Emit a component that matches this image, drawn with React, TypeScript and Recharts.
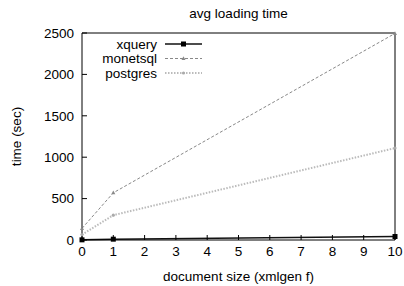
import { Line, LineChart, XAxis, YAxis } from "recharts"

const sizes = [0, 1, 10]
const xquery = [2, 10, 42]
const monetsql = [140, 570, 2495]
const postgres = [65, 300, 1110]

const xTicks = [0, 1, 2, 3, 4, 5, 6, 7, 8, 9, 10]
const yTicks = [0, 500, 1000, 1500, 2000, 2500]

const data = sizes.map((s, i) => ({
  size: s,
  xquery: xquery[i],
  monetsql: monetsql[i],
  postgres: postgres[i],
}))

const FONT = "'Liberation Sans', Arial, Helvetica, sans-serif"
const tickStyle = { fontSize: 13.5, fill: "#000", fontFamily: FONT }

const SquareDot = (props: any) => {
  const { cx, cy, index } = props
  return <rect key={`sq-${index}`} x={cx - 2.5} y={cy - 2.5} width={5} height={5} fill="#000" />
}

const TriDot = (props: any) => {
  const { cx, cy, index } = props
  return (
    <path
      key={`tri-${index}`}
      d={`M${cx},${cy - 2.2}L${cx + 2},${cy + 1.5}L${cx - 2},${cy + 1.5}Z`}
      fill="#888"
    />
  )
}

const CircleDot = (props: any) => {
  const { cx, cy, index } = props
  return <circle key={`ci-${index}`} cx={cx} cy={cy} r={1.6} fill="#aaa" />
}

const series = [
  { key: "xquery", stroke: "#111", width: 1.5, dash: undefined, marker: "square" },
  { key: "monetsql", stroke: "#888", width: 1, dash: "3 2", marker: "tri" },
  { key: "postgres", stroke: "#bbb", width: 2, dash: "1.5 1.5", marker: "circle" },
]

function LegendBox() {
  return (
    <svg
      width={220}
      height={90}
      style={{ position: "absolute", left: 0, top: 0, pointerEvents: "none" }}
    >
      {series.map((s, i) => {
        const y = 44 + i * 14.5
        return (
          <g key={s.key}>
            <text x={157} y={y + 4.5} textAnchor="end" style={tickStyle}>
              {s.key}
            </text>
            <line x1={165} x2={202} y1={y} y2={y} stroke={s.stroke} strokeWidth={s.width} strokeDasharray={s.dash} />
            {s.marker === "square" && <rect x={181} y={y - 2.5} width={5} height={5} fill="#000" />}
            {s.marker === "tri" && (
              <path d={`M183.5,${y - 2.2}L185.5,${y + 1.5}L181.5,${y + 1.5}Z`} fill="#888" />
            )}
            {s.marker === "circle" && <circle cx={183.5} cy={y} r={1.6} fill="#aaa" />}
          </g>
        )
      })}
    </svg>
  )
}

export default function App() {
  return (
    <div style={{ position: "absolute", left: 0, top: 0, width: 404, height: 286, fontFamily: FONT }}>
      <LineChart
        width={404}
        height={286}
        data={data}
        margin={{ top: 3, right: 0, bottom: 0, left: 0 }}
      >
        <text x={238.5} y={18} textAnchor="middle" style={tickStyle}>
          avg loading time
        </text>
        <XAxis
          dataKey="size"
          type="number"
          domain={[0, 10]}
          ticks={xTicks}
          interval={0}
          height={46}
          stroke="#000"
          tickSize={-5}
          tickMargin={11}
          tick={tickStyle}
          label={{
            content: ({ viewBox }: any) => (
              <text x={viewBox.x + viewBox.width / 2} y={281} textAnchor="middle" style={tickStyle}>
                document size (xmlgen f)
              </text>
            ),
          }}
        />
        <XAxis
          xAxisId="top"
          orientation="top"
          dataKey="size"
          type="number"
          domain={[0, 10]}
          ticks={xTicks}
          interval={0}
          height={30}
          stroke="#000"
          tickSize={-5}
          tick={false}
        />
        <YAxis
          domain={[0, 2500]}
          ticks={yTicks}
          interval={0}
          width={82}
          stroke="#000"
          tickSize={-5}
          tickMargin={13}
          tick={tickStyle}
          label={{
            content: ({ viewBox }: any) => {
              const cx = 16
              const cy = viewBox.y + viewBox.height / 2
              return (
                <text x={cx} y={cy} textAnchor="middle" dominantBaseline="central" transform={`rotate(-90 ${cx} ${cy})`} style={tickStyle}>
                  time (sec)
                </text>
              )
            },
          }}
        />
        <YAxis
          yAxisId="right"
          orientation="right"
          domain={[0, 2500]}
          ticks={yTicks}
          interval={0}
          width={9}
          stroke="#000"
          tickSize={-5}
          tick={false}
        />
        <Line
          dataKey="postgres"
          stroke="#bbb"
          strokeWidth={2}
          strokeDasharray="1.5 1.5"
          dot={CircleDot}
          isAnimationActive={false}
        />
        <Line
          dataKey="monetsql"
          stroke="#888"
          strokeWidth={1}
          strokeDasharray="3 2"
          dot={TriDot}
          isAnimationActive={false}
        />
        <Line
          dataKey="xquery"
          stroke="#111"
          strokeWidth={1.5}
          dot={SquareDot}
          isAnimationActive={false}
        />
      </LineChart>
      <LegendBox />
    </div>
  )
}
